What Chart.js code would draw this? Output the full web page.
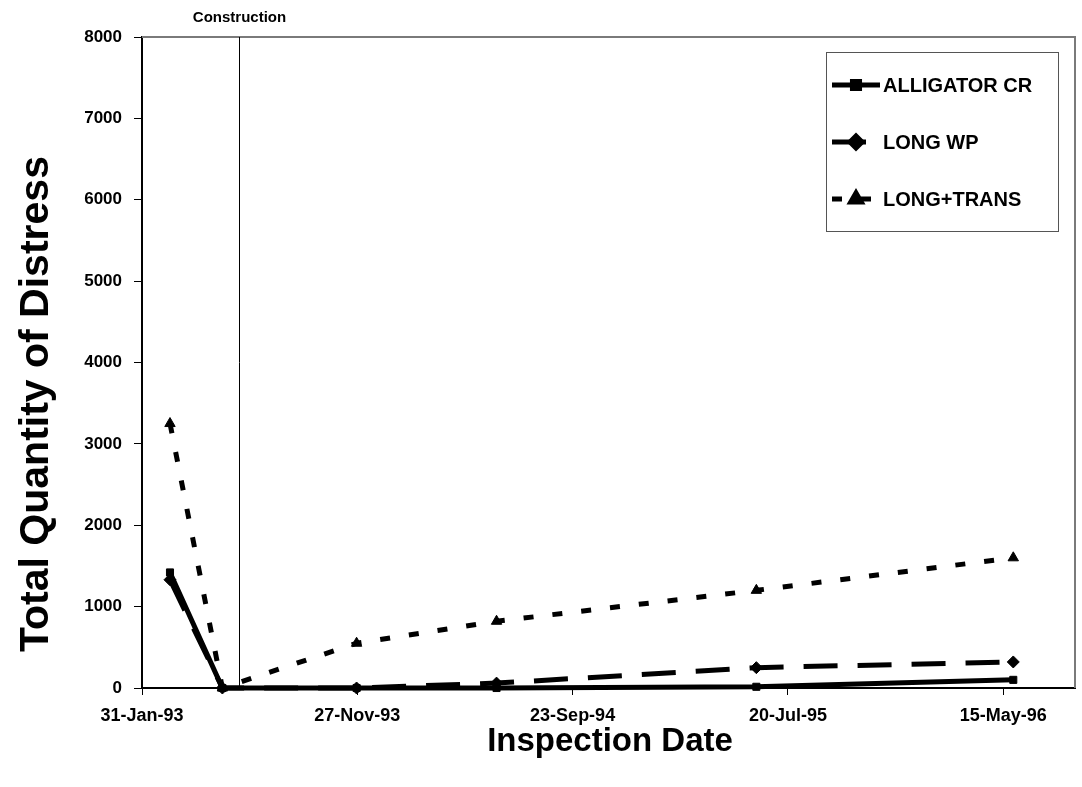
<!DOCTYPE html>
<html>
<head>
<meta charset="utf-8">
<script src="https://cdn.jsdelivr.net/npm/chart.js@4.4.1/dist/chart.umd.min.js"></script>
<style>
  html, body { margin: 0; padding: 0; background: #ffffff; }
  #wrap { width: 1082px; height: 787px; position: relative; }
</style>
</head>
<body>
<div id="wrap"><canvas id="chart" width="1082" height="787"></canvas></div>
<script>
// Inspection dates and measured distress quantities
const inspectionDates = ['1993-03-11', '1993-05-23', '1993-11-26', '1994-06-09', '1995-06-06', '1996-05-29'];
const alligatorCr = [1420, 0, 0, 0, 15, 100];
const longWp = [1330, 0, 0, 60, 250, 320];
const longTrans = [3250, 0, 550, 820, 1200, 1600];
const seriesNames = ['ALLIGATOR CR', 'LONG WP', 'LONG+TRANS'];

// Axis definition: dates counted in days from the first axis date
const axisStartDate = '1993-01-31';
const tickStepDays = 300;
const axisSpanDays = 1300;
const yMax = 8000;
const yStep = 1000;
const constructionDate = '1993-06-15';
const constructionLabel = 'Construction';
const xTitle = 'Inspection Date';
const yTitle = 'Total Quantity of Distress';

const DAY = 86400000;
const MONTHS = ['Jan','Feb','Mar','Apr','May','Jun','Jul','Aug','Sep','Oct','Nov','Dec'];
const FONT = '"Liberation Sans", Arial, Helvetica, sans-serif';

function dayOffset(iso) {
  return (Date.parse(iso) - Date.parse(axisStartDate)) / DAY;
}
function formatDay(offset) {
  const d = new Date(Date.parse(axisStartDate) + offset * DAY);
  const yy = String(d.getUTCFullYear() % 100).padStart(2, '0');
  return d.getUTCDate() + '-' + MONTHS[d.getUTCMonth()] + '-' + yy;
}
function toPoints(values) {
  return values.map((v, i) => ({ x: dayOffset(inspectionDates[i]), y: v }));
}

// Vertical construction marker and its caption
const constructionPlugin = {
  id: 'constructionLine',
  afterDatasetsDraw(chart) {
    const { ctx, chartArea, scales } = chart;
    const x = Math.round(scales.x.getPixelForValue(dayOffset(constructionDate))) + 0.5;
    ctx.save();
    ctx.strokeStyle = '#000';
    ctx.lineWidth = 1;
    ctx.beginPath();
    ctx.moveTo(x, chartArea.top);
    ctx.lineTo(x, chartArea.bottom);
    ctx.stroke();
    ctx.fillStyle = '#000';
    ctx.font = 'bold 15px ' + FONT;
    ctx.textAlign = 'center';
    ctx.textBaseline = 'middle';
    ctx.fillText(constructionLabel, x, 18);
    ctx.restore();
  }
};

// Plot frame: grey top and right edges
const framePlugin = {
  id: 'plotFrame',
  beforeDatasetsDraw(chart) {
    const { ctx, chartArea } = chart;
    ctx.save();
    ctx.strokeStyle = '#7a7a7a';
    ctx.lineWidth = 2;
    ctx.beginPath();
    ctx.moveTo(chartArea.left, chartArea.top);
    ctx.lineTo(chartArea.right, chartArea.top);
    ctx.lineTo(chartArea.right, chartArea.bottom);
    ctx.stroke();
    ctx.restore();
  }
};

// Axis titles
const titlesPlugin = {
  id: 'axisTitles',
  afterDraw(chart) {
    const { ctx } = chart;
    ctx.save();
    ctx.fillStyle = '#000';
    ctx.textAlign = 'center';
    ctx.textBaseline = 'middle';
    ctx.font = 'bold 33px ' + FONT;
    ctx.fillText(xTitle, 610, 742);
    ctx.translate(37, 404);
    ctx.rotate(-Math.PI / 2);
    ctx.font = 'bold 41px ' + FONT;
    ctx.fillText(yTitle, 0, 0);
    ctx.restore();
  }
};

// Boxed legend inside the plot area
const boxLegendPlugin = {
  id: 'boxLegend',
  afterDraw(chart) {
    const { ctx } = chart;
    const box = { left: 826, top: 52, right: 1058, bottom: 231 };
    ctx.save();
    ctx.fillStyle = '#fff';
    ctx.fillRect(box.left, box.top, box.right - box.left, box.bottom - box.top);
    ctx.strokeStyle = '#555';
    ctx.lineWidth = 1;
    ctx.strokeRect(box.left + 0.5, box.top + 0.5, box.right - box.left, box.bottom - box.top);
    const rowY = [85, 142, 199];
    chart.data.datasets.forEach((ds) => {
      const y = rowY[seriesNames.indexOf(ds.label)];
      const x0 = 832, x1 = 880, xm = 856;
      ctx.save();
      ctx.strokeStyle = ds.borderColor;
      ctx.lineWidth = ds.borderWidth;
      ctx.setLineDash(ds.borderDash || []);
      ctx.beginPath();
      ctx.moveTo(x0, y);
      ctx.lineTo(x1, y);
      ctx.stroke();
      ctx.setLineDash([]);
      ctx.fillStyle = ds.pointBackgroundColor;
      ctx.strokeStyle = ds.pointBorderColor;
      Chart.helpers.drawPoint(ctx, {
        pointStyle: ds.pointStyle, radius: ds.pointRadius, rotation: 0, borderWidth: 1
      }, xm, y);
      ctx.restore();
      ctx.fillStyle = '#000';
      ctx.font = 'bold 20px ' + FONT;
      ctx.textAlign = 'left';
      ctx.textBaseline = 'middle';
      ctx.fillText(ds.label, 883, y + 1);
    });
    ctx.restore();
  }
};

const seriesStyle = [
  { dash: [], point: 'rect', radius: 5 },
  { dash: [34, 20], point: 'rectRot', radius: 6 },
  { dash: [10, 19], point: 'triangle', radius: 6 }
];
const seriesValues = [alligatorCr, longWp, longTrans];

new Chart(document.getElementById('chart'), {
  type: 'line',
  data: {
    // LONG+TRANS drawn first so the solid series sits on top
    datasets: seriesValues.map((vals, i) => ({
      label: seriesNames[i],
      data: toPoints(vals),
      borderColor: '#000',
      backgroundColor: '#000',
      borderWidth: 5,
      borderDash: seriesStyle[i].dash,
      pointStyle: seriesStyle[i].point,
      pointRadius: seriesStyle[i].radius,
      pointBackgroundColor: '#000',
      pointBorderColor: '#000',
      pointBorderWidth: 1,
      tension: 0,
      fill: false,
      clip: false
    })).reverse()
  },
  options: {
    responsive: false,
    animation: false,
    devicePixelRatio: 1,
    layout: { padding: { top: 37, right: 4, left: 0, bottom: 0 } },
    plugins: {
      legend: { display: false },
      title: { display: false },
      tooltip: { enabled: false }
    },
    scales: {
      x: {
        type: 'linear',
        min: 0,
        max: axisSpanDays,
        afterFit(scale) { scale.height = 99; },
        afterBuildTicks(scale) {
          scale.ticks = scale.ticks.filter(t => t.value % tickStepDays === 0);
        },
        ticks: {
          stepSize: tickStepDays,
          autoSkip: false,
          maxRotation: 0,
          padding: 10,
          color: '#000',
          font: { family: FONT, size: 18, weight: 'bold' },
          callback: (v) => formatDay(v)
        },
        grid: { drawOnChartArea: false, tickLength: 7, color: '#000', lineWidth: 1 },
        border: { display: true, color: '#000', width: 2 }
      },
      y: {
        min: 0,
        max: yMax,
        afterFit(scale) { scale.width = 142; },
        ticks: {
          stepSize: yStep,
          padding: 12,
          color: '#000',
          font: { family: FONT, size: 17, weight: 'bold' },
          callback: (v) => String(v)
        },
        grid: { drawOnChartArea: false, tickLength: 8, color: '#000', lineWidth: 1 },
        border: { display: true, color: '#000', width: 2 }
      }
    }
  },
  plugins: [framePlugin, constructionPlugin, titlesPlugin, boxLegendPlugin]
});
</script>
</body>
</html>
